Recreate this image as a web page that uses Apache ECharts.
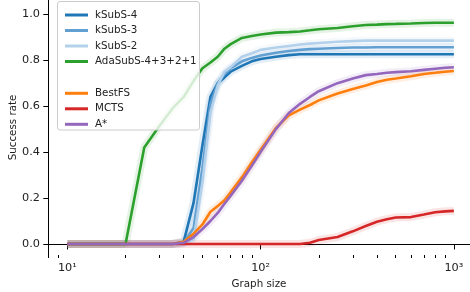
<!DOCTYPE html>
<html>
<head>
<meta charset="utf-8">
<script src="https://cdn.jsdelivr.net/npm/echarts@6/dist/echarts.min.js"></script>
<style>
  html, body { margin: 0; padding: 0; background: #fff; }
  #chart { width: 470px; height: 292px; }
</style>
</head>
<body>
<div id="chart"></div>
<script>
// graph sizes (x) shared by every curve
const sizes = [10, 15, 20, 25, 30, 35, 40, 45, 50, 55, 60, 65, 70, 80, 90, 100, 120, 140, 160,
  180, 200, 250, 300, 350, 400, 450, 500, 600, 700, 800, 900, 1000];

const kSubS4 = [0, 0, 0, 0, 0, 0, 0.01, 0.18, 0.43, 0.64, 0.70, 0.725, 0.75, 0.775, 0.795, 0.805, 0.815, 0.822, 0.826,
  0.826, 0.826, 0.826, 0.826, 0.826, 0.826, 0.826, 0.826, 0.826, 0.826, 0.826, 0.826, 0.826];
const kSubS3 = [0, 0, 0, 0, 0, 0, 0.005, 0.07, 0.33, 0.61, 0.70, 0.74, 0.765, 0.795, 0.81, 0.82, 0.832, 0.84, 0.845,
  0.848, 0.85, 0.853, 0.855, 0.855, 0.856, 0.856, 0.856, 0.856, 0.856, 0.856, 0.856, 0.856];
const kSubS2 = [0, 0, 0, 0, 0, 0, 0, 0.02, 0.27, 0.57, 0.69, 0.75, 0.77, 0.815, 0.83, 0.845, 0.855, 0.862, 0.868,
  0.872, 0.875, 0.88, 0.883, 0.885, 0.885, 0.885, 0.885, 0.885, 0.885, 0.885, 0.885, 0.885];
const adaSubS = [0, 0, 0, 0.42, 0.515, 0.59, 0.64, 0.71, 0.765, 0.79, 0.815, 0.85, 0.87, 0.897, 0.905, 0.912, 0.92, 0.922, 0.925,
  0.93, 0.935, 0.94, 0.948, 0.953, 0.955, 0.957, 0.958, 0.96, 0.962, 0.963, 0.963, 0.963];
const bestFS = [0, 0, 0, 0, 0, 0, 0.01, 0.045, 0.085, 0.14, 0.165, 0.19, 0.225, 0.29, 0.355, 0.41, 0.505, 0.56, 0.585,
  0.605, 0.625, 0.655, 0.675, 0.69, 0.705, 0.715, 0.72, 0.73, 0.74, 0.745, 0.75, 0.753];
const mcts = [0, 0, 0, 0, 0, 0, 0, 0, 0, 0, 0, 0, 0, 0, 0, 0, 0, 0, 0,
  0.005, 0.017, 0.03, 0.055, 0.078, 0.097, 0.108, 0.115, 0.117, 0.128, 0.138, 0.142, 0.144];
const aStar = [0, 0, 0, 0, 0, 0, 0.005, 0.03, 0.065, 0.10, 0.135, 0.175, 0.21, 0.275, 0.34, 0.40, 0.50, 0.57, 0.61,
  0.64, 0.665, 0.70, 0.72, 0.735, 0.74, 0.745, 0.748, 0.752, 0.758, 0.763, 0.767, 0.769];

const majorTicks = [10, 100, 1000];
const minorTicks = [8, 9, 20, 30, 40, 50, 60, 70, 80, 90, 200, 300, 400, 500, 600, 700, 800, 900];
const yTicks = [0, 0.2, 0.4, 0.6, 0.8, 1.0];

const lines = [
  { name: 'kSubS-4', values: kSubS4, color: '#2077b6' },
  { name: 'kSubS-3', values: kSubS3, color: '#62a0d2' },
  { name: 'kSubS-2', values: kSubS2, color: '#b3d1ea' },
  { name: 'AdaSubS-4+3+2+1', values: adaSubS, color: '#2ca02c' },
  { name: 'BestFS', values: bestFS, color: '#ff7f0e' },
  { name: 'MCTS', values: mcts, color: '#d62728' },
  { name: 'A*', values: aStar, color: '#9467bd' }
];

const supers = { 10: '10\u00b9', 100: '10\u00b2', 1000: '10\u00b3' };

var chartDom = document.getElementById('chart');
var myChart = echarts.init(chartDom);

var series = [];
lines.forEach(function (l) {
  const pts = sizes.map((s, i) => [s, l.values[i]]);
  // faint band under each curve
  series.push({
    name: l.name + ' band', type: 'line', data: pts, symbol: 'none', silent: true,
    lineStyle: { color: l.color, width: 8, opacity: 0.12 }, z: 1
  });
  series.push({
    name: l.name, type: 'line', data: pts, symbol: 'none', showSymbol: false,
    color: l.color, lineStyle: { color: l.color, width: 2.6 }, z: 2
  });
});

const legendCommon = {
  orient: 'vertical', left: 60, itemWidth: 23, itemHeight: 3, itemGap: 5.5, z: 10,
  icon: 'rect',
  textStyle: { fontFamily: 'DejaVu Sans', fontSize: 10.3, color: '#222', lineHeight: 10, padding: [0, 0, 0, 2] }
};

var option = {
  animation: false,
  textStyle: { fontFamily: 'DejaVu Sans' },
  grid: { left: 48, right: 0, top: 0, bottom: 37, outerBoundsMode: 'none', containLabel: false },
  xAxis: [
    {
      type: 'log', min: 7.94, max: 1212, position: 'bottom',
      name: 'Graph size', nameLocation: 'middle', nameGap: 24,
      nameTextStyle: { fontFamily: 'DejaVu Sans', fontSize: 10.3, color: '#222' },
      axisLine: { lineStyle: { color: '#000', width: 1 } },
      axisTick: { customValues: majorTicks, length: 5.5, lineStyle: { color: '#000' } },
      axisLabel: {
        customValues: majorTicks, margin: 8, fontSize: 11.3, color: '#222', fontFamily: 'DejaVu Sans',
        formatter: v => supers[Math.round(v)] || ''
      },
      splitLine: { show: false }
    },
    {
      type: 'log', min: 7.94, max: 1212, position: 'bottom',
      axisLine: { show: false },
      axisTick: { customValues: minorTicks, length: 3, lineStyle: { color: '#000' } },
      axisLabel: { show: false },
      splitLine: { show: false }
    }
  ],
  yAxis: {
    type: 'value', min: -0.048, max: 1.062,
    name: 'Success rate', nameLocation: 'middle', nameGap: 30, nameMoveOverlap: false,
    nameTextStyle: { fontFamily: 'DejaVu Sans', fontSize: 10.3, color: '#222' },
    axisLine: { show: true, lineStyle: { color: '#000', width: 1 } },
    axisTick: { show: true, customValues: yTicks, length: 4.7, lineStyle: { color: '#000' } },
    axisLabel: {
      customValues: yTicks, margin: 8, fontSize: 11.3, color: '#222', fontFamily: 'DejaVu Sans',
      formatter: v => v.toFixed(1)
    },
    splitLine: { show: false }
  },
  graphic: [{
    type: 'rect', z: 5, silent: true,
    shape: { x: 57.5, y: 1.5, width: 142, height: 128.5, r: 2.5 },
    style: { fill: 'rgba(255,255,255,0.8)', stroke: '#cccccc', lineWidth: 1 }
  }],
  legend: [
    Object.assign({}, legendCommon, { top: 5, data: lines.slice(0, 4).map(l => l.name) }),
    Object.assign({}, legendCommon, { top: 83.3, data: lines.slice(4).map(l => l.name) })
  ],
  series: series
};

myChart.setOption(option);
</script>
</body>
</html>
